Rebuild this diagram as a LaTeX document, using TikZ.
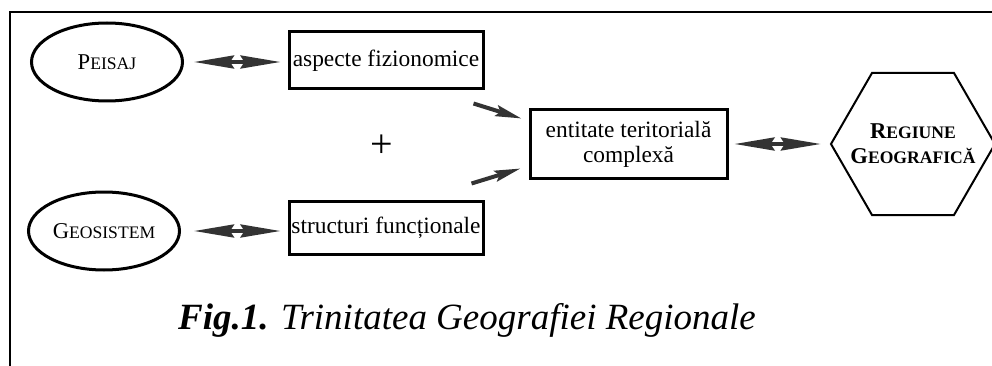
\documentclass[tikz,border=0pt]{standalone}
\usepackage{fontspec}
\setmainfont{Liberation Serif}
\usetikzlibrary{calc,shapes.geometric,arrows.meta}
\newcommand*{\CapSize}{\fontsize{11.3}{13}\selectfont}
\newcommand*{\FakeSmallCaps}[2]{{\CapSize #1}{\fontsize{8.8}{10}\selectfont #2}}% #1 = first letter, #2 = rest
\tikzset{
  ovalbox/.style={ellipse, draw=black, line width=1.5pt, minimum width=75.5pt,
    minimum height=39pt, inner sep=0pt},
  termbox/.style={rectangle, draw=black, line width=1.5pt, minimum width=97pt,
    inner sep=0pt, align=center, font=\fontsize{11.7}{12.5}\selectfont},
  hexbox/.style={regular polygon, regular polygon sides=6, draw=black, line width=1pt,
    minimum size=82pt, inner sep=0pt},
  twoway/.style={draw=black!80, line width=1.8pt,
    {Stealth[length=20pt,width=6.5pt,inset=2pt]}-{Stealth[length=20pt,width=6.5pt,inset=2pt]}},
  oneway/.style={draw=black!80, line width=2pt,
    -{Stealth[length=13pt,width=5.5pt,inset=2pt]}},
}

\begin{document}
\begin{tikzpicture}[x=0.5pt,y=0.5pt]
    \useasboundingbox (0,0) rectangle (992,365);
    % frame (only top and left edges are visible)
    \draw[line width=1pt] (10,-20) |- (1020,353);

    \node [ovalbox] (peisaj) at (107,303) {\FakeSmallCaps{P}{EISAJ}};
    \node [ovalbox] (geosistem) at (104,134) {\FakeSmallCaps{G}{EOSISTEM}};

    \node [termbox, minimum height=28.5pt] (aspect) at (386,304.5) {aspecte fizionomice};
    \node [termbox, minimum height=26.5pt] (struct) at (386,137.5) {structuri funcționale};
    \node [termbox, minimum width=98.5pt, minimum height=34pt] (entitate) at (628.5,221)
      {entitate teritorială\\complexă};

    \node [hexbox] (regiune) at (913,221) {};
    \node [align=center, font=\bfseries\fontsize{11.3}{12.5}\selectfont] (regiunetext) at (regiune.center)
      {\FakeSmallCaps{R}{EGIUNE}\\\FakeSmallCaps{G}{EOGRAFICĂ}};

    \node (plus) at (382,219) {\fontsize{20}{20}\selectfont +};

    \draw [twoway, shorten <=5pt, shorten >=3.5pt] (peisaj.east) -- (peisaj.east -| aspect.west);
    \draw [twoway, shorten <=6.5pt, shorten >=3.5pt] (geosistem.east) -- (geosistem.east -| struct.west);
    \draw [twoway, shorten <=3pt, shorten >=4.5pt] (entitate.east) -- (entitate.east -| regiune.west);

    \draw [oneway] ([shift={(-11,-13)}]aspect.south east) -- ([shift={(-7,-10)}]entitate.north west);
    \draw [oneway] ([shift={(-13,16)}]struct.north east) -- ([shift={(-8,11)}]entitate.south west);

    \node (caption) at (467,45)
      {\fontsize{18.5}{22}\selectfont\textbf{\textit{Fig.1.}} \textit{Trinitatea Geografiei Regionale}};
\end{tikzpicture}
\end{document}
